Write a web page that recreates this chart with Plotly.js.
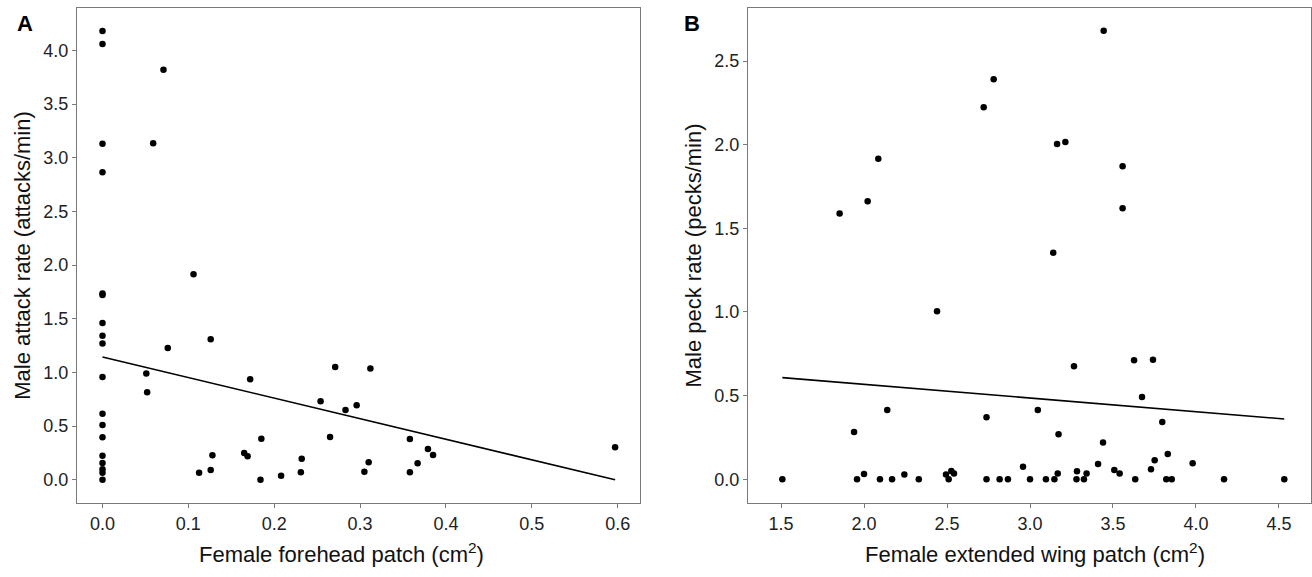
<!DOCTYPE html>
<html>
<head>
<meta charset="utf-8">
<script src="https://cdn.plot.ly/plotly-3.0.1.min.js"></script>
<style>
html,body{margin:0;padding:0;background:#fff;}
#chart{width:1312px;height:577px;}
</style>
</head>
<body>
<div id="chart"></div>
<script>
// Panel A: female forehead patch (cm2) vs male attack rate (attacks/min)
const foreheadPatch = [0, 0, 0.071, 0, 0.059, 0, 0.106, 0, 0, 0, 0, 0, 0.126, 0.076, 0, 0.051, 0.052,
  0.172, 0.271, 0.254, 0.283, 0.296, 0.265, 0, 0, 0, 0, 0, 0, 0, 0, 0.1125, 0.126, 0.128, 0.165,
  0.169, 0.185, 0.184, 0.208, 0.231, 0.232, 0.312, 0.358, 0.379, 0.385, 0.367, 0.358, 0.310, 0.305, 0.597];
const attackRate = [4.18, 4.06, 3.82, 3.13, 3.135, 2.865, 1.914, 1.735, 1.72, 1.46, 1.342, 1.268, 1.308, 1.227, 0.957, 0.99, 0.815,
  0.936, 1.05, 0.73, 0.65, 0.693, 0.398, 0.615, 0.51, 0.395, 0.224, 0.156, 0.097, 0.065, 0.0, 0.065, 0.09, 0.227, 0.249,
  0.218, 0.382, 0.0, 0.037, 0.069, 0.196, 1.035, 0.379, 0.286, 0.23, 0.153, 0.069, 0.162, 0.075, 0.302];
const fitA = {intercept: 1.143, slope: -1.915};

// Panel B: female extended wing patch (cm2) vs male peck rate (pecks/min)
const wingPatch = [1.853, 2.022, 2.086, 2.721, 2.781, 3.444, 3.163, 3.213, 3.558, 3.558, 3.140,
  2.440, 2.140, 1.940, 2.738, 1.508, 1.958, 2.000, 2.096, 2.169, 2.243, 2.330, 2.494, 2.510, 2.526, 2.542,
  2.738, 2.817, 2.867, 3.265, 3.627, 3.741, 3.675, 3.047, 3.797, 3.172, 3.440, 3.830, 2.958, 3.410,
  3.751, 3.980, 3.729, 3.508, 3.540, 3.283, 3.341, 3.167, 3.000, 3.096, 3.147, 3.280, 3.325, 3.634,
  3.821, 3.854, 4.169, 4.532];
const peckRate = [1.588, 1.662, 1.916, 2.224, 2.391, 2.681, 2.004, 2.016, 1.871, 1.620, 1.354,
  1.004, 0.414, 0.283, 0.371, 0, 0, 0.032, 0, 0, 0.028, 0, 0.028, 0, 0.050, 0.034,
  0, 0, 0, 0.675, 0.711, 0.715, 0.492, 0.414, 0.342, 0.269, 0.219, 0.151, 0.074, 0.091,
  0.113, 0.096, 0.060, 0.056, 0.034, 0.048, 0.034, 0.034, 0, 0, 0, 0, 0, 0,
  0, 0, 0, 0];
const fitB = {intercept: 0.731, slope: -0.0818};

const xTicksA = [0, 0.1, 0.2, 0.3, 0.4, 0.5, 0.6];
const yTicksA = [0, 0.5, 1.0, 1.5, 2.0, 2.5, 3.0, 3.5, 4.0];
const xTicksB = [1.5, 2.0, 2.5, 3.0, 3.5, 4.0, 4.5];
const yTicksB = [0, 0.5, 1.0, 1.5, 2.0, 2.5];

const xTitleA = 'Female forehead patch (cm<sup>2</sup>)';
const yTitleA = 'Male attack rate (attacks/min)';
const xTitleB = 'Female extended wing patch (cm<sup>2</sup>)';
const yTitleB = 'Male peck rate (pecks/min)';

function fitLine(xs, fit) {
  const lo = Math.min(...xs), hi = Math.max(...xs);
  return {x: [lo, hi], y: [fit.intercept + fit.slope * lo, fit.intercept + fit.slope * hi]};
}
const lineA = fitLine(foreheadPatch, fitA);
const lineB = fitLine(wingPatch, fitB);

const FONT = 'Liberation Sans, Arial, sans-serif';
const marker = {color: '#000', size: 6.5};
const traces = [
  {x: foreheadPatch, y: attackRate, type: 'scatter', mode: 'markers', marker: marker, xaxis: 'x', yaxis: 'y', hoverinfo: 'x+y'},
  {x: lineA.x, y: lineA.y, type: 'scatter', mode: 'lines', line: {color: '#000', width: 1.6}, xaxis: 'x', yaxis: 'y'},
  {x: wingPatch, y: peckRate, type: 'scatter', mode: 'markers', marker: marker, xaxis: 'x2', yaxis: 'y2', hoverinfo: 'x+y'},
  {x: lineB.x, y: lineB.y, type: 'scatter', mode: 'lines', line: {color: '#000', width: 1.6}, xaxis: 'x2', yaxis: 'y2'}
];

function axis(extra) {
  return Object.assign({
    showgrid: false, zeroline: false, showline: true, mirror: true,
    linecolor: '#7a7a7a', linewidth: 1.3,
    ticks: 'outside', ticklen: 4, tickcolor: '#7a7a7a', tickwidth: 1,
    tickfont: {family: FONT, size: 18, color: '#222'},
    tickmode: 'array'
  }, extra);
}

const W = 1312, H = 577;
const titleFont = {family: FONT, size: 22, color: '#111'};
const layout = {
  width: W, height: H,
  margin: {l: 0, r: 0, t: 0, b: 0},
  paper_bgcolor: '#fff', plot_bgcolor: '#fff',
  showlegend: false,
  font: {family: FONT, color: '#222'},
  xaxis: axis({domain: [77 / W, 640 / W], range: [-0.0297, 0.626], anchor: 'y',
    tickvals: xTicksA, ticktext: xTicksA.map(v => v.toFixed(1))}),
  yaxis: axis({domain: [(H - 503) / H, (H - 8) / H], range: [-0.217, 4.395], anchor: 'x',
    tickvals: yTicksA, ticktext: yTicksA.map(v => v.toFixed(1)),
    title: {text: yTitleA, font: titleFont, standoff: 6}}),
  xaxis2: axis({domain: [748 / W, 1311 / W], range: [1.301, 4.693], anchor: 'y2',
    tickvals: xTicksB, ticktext: xTicksB.map(v => v.toFixed(1))}),
  yaxis2: axis({domain: [(H - 503) / H, (H - 8) / H], range: [-0.142, 2.817], anchor: 'x2',
    tickvals: yTicksB, ticktext: yTicksB.map(v => v.toFixed(1)),
    title: {text: yTitleB, font: titleFont, standoff: 6}}),
  annotations: [
    {text: xTitleA, xref: 'paper', yref: 'paper', x: 341 / W, y: 1 - 553 / H, xanchor: 'center', yanchor: 'middle',
     showarrow: false, font: titleFont},
    {text: xTitleB, xref: 'paper', yref: 'paper', x: 1035 / W, y: 1 - 553 / H, xanchor: 'center', yanchor: 'middle',
     showarrow: false, font: titleFont},
    {text: '<b>A</b>', xref: 'paper', yref: 'paper', x: 25 / W, y: 1 - 24 / H, xanchor: 'center', yanchor: 'middle',
     showarrow: false, font: {family: FONT, size: 22, color: '#000'}},
    {text: '<b>B</b>', xref: 'paper', yref: 'paper', x: 692 / W, y: 1 - 24 / H, xanchor: 'center', yanchor: 'middle',
     showarrow: false, font: {family: FONT, size: 22, color: '#000'}}
  ]
};

Plotly.newPlot('chart', traces, layout, {displayModeBar: false});
</script>
</body>
</html>
